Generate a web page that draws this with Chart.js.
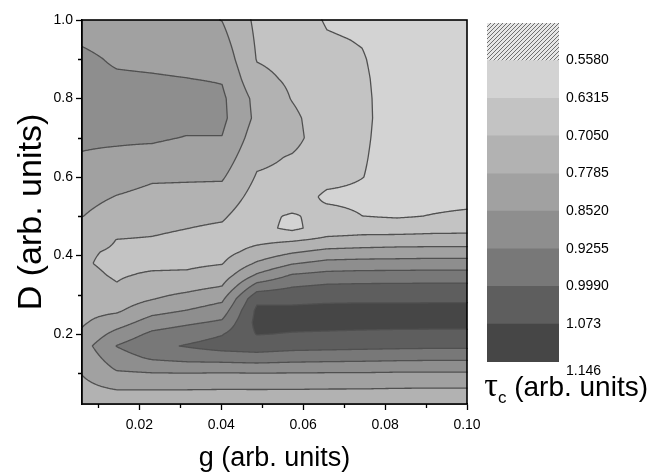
<!DOCTYPE html>
<html>
<head>
<meta charset="utf-8">
<script src="https://cdn.jsdelivr.net/npm/chart.js@4"></script>
<style>
  html, body { margin: 0; padding: 0; background: #fff; }
  #wrap { position: relative; width: 652px; height: 475px; overflow: hidden; }
  #main { position: absolute; left: 0; top: 0; }
  #scale { position: absolute; left: 470px; top: 0; }
  #unit { position: absolute; right: 4px; top: 366px; font-family: "Liberation Sans", Arial, sans-serif; font-size: 28px; color: #000; white-space: nowrap; }
  #unit .tau { font-family: "Liberation Serif", serif; font-size: 34px; }
  #unit sub { font-size: 17px; }
</style>
</head>
<body>
<div id="wrap">
  <canvas id="main" width="652" height="475"></canvas>
  <canvas id="scale" width="182" height="475"></canvas>
  <div id="unit"><span class="tau">τ</span><sub>c</sub> (arb. units)</div>
</div>
<script>
// Contour levels and colour scale
const levels = [0.558, 0.6315, 0.705, 0.7785, 0.852, 0.9255, 0.999, 1.073, 1.146];
const levelLabels = ['0.5580', '0.6315', '0.7050', '0.7785', '0.8520', '0.9255', '0.9990', '1.073', '1.146'];
const bandColors = ['#d3d3d3', '#c3c3c3', '#b2b2b2', '#a1a1a1', '#8e8e8e', '#787878', '#5e5e5e', '#464646'];

// Axis ticks
const gTicks = [0.02, 0.04, 0.06, 0.08, 0.10];
const gMinorTicks = [0.01, 0.03, 0.05, 0.07, 0.09];
const dTicks = [0.2, 0.4, 0.6, 0.8, 1.0];
const dMinorTicks = [0.1, 0.3, 0.5, 0.7, 0.9];

// Grid of tau_c values
const gValues = [0.006, 0.0145, 0.0231, 0.0316, 0.0402, 0.0487, 0.0573, 0.0658, 0.0744, 0.0829, 0.0915, 0.1];
const dValues = [0.02, 0.05, 0.08, 0.11, 0.14, 0.17, 0.20, 0.23, 0.26, 0.29, 0.32, 0.35, 0.38, 0.41,
                 0.44, 0.47, 0.50, 0.55, 0.60, 0.65, 0.70, 0.75, 0.80, 0.85, 0.90, 0.95, 1.00];
// one column per g value, entries follow dValues
const tauColumns = [
  [.740, .755, .770, .786, .803, .820, .789, .770, .758, .748, .735, .722, .712, .713, .735, .757, .780, .802, .825, .848, .861, .871, .880, .870, .865, .845, .820],
  [.740, .767, .809, .857, .892, .928, .877, .817, .768, .739, .710, .698, .690, .698, .704, .724, .744, .776, .808, .840, .861, .876, .878, .860, .844, .830, .815],
  [.740, .767, .809, .869, .937, .983, .941, .885, .827, .775, .745, .714, .690, .681, .700, .717, .733, .759, .788, .830, .861, .882, .878, .857, .840, .825, .810],
  [.740, .767, .809, .872, .954, 1.004, .967, .912, .854, .804, .758, .717, .691, .670, .688, .706, .724, .755, .787, .818, .849, .875, .879, .853, .835, .817, .800],
  [.740, .766, .807, .870, .961, 1.027, .995, .937, .887, .837, .782, .740, .702, .680, .672, .694, .715, .751, .786, .818, .850, .868, .865, .847, .824, .800, .777],
  [.740, .766, .808, .872, .970, 1.034, 1.076, 1.094, 1.088, 1.056, .962, .862, .788, .728, .686, .655, .654, .677, .699, .720, .741, .762, .756, .723, .702, .696, .690],
  [.740, .766, .807, .871, .959, 1.025, 1.069, 1.093, 1.087, 1.057, .998, .932, .847, .769, .696, .615, .622, .680, .690, .700, .725, .720, .702, .694, .686, .678, .670],
  [.740, .765, .805, .870, .954, 1.022, 1.066, 1.093, 1.092, 1.061, 1.014, .950, .875, .797, .720, .667, .660, .615, .660, .668, .668, .665, .660, .655, .648, .638, .625],
  [.740, .765, .804, .870, .950, 1.019, 1.062, 1.094, 1.094, 1.062, 1.017, .955, .880, .804, .728, .675, .632, .612, .633, .638, .642, .645, .644, .641, .636, .628, .615],
  [.740, .763, .802, .867, .946, 1.016, 1.059, 1.094, 1.095, 1.061, 1.018, .956, .881, .808, .734, .671, .625, .610, .603, .600, .600, .600, .600, .600, .600, .600, .600],
  [.740, .763, .800, .867, .943, 1.014, 1.058, 1.094, 1.095, 1.062, 1.019, .958, .884, .810, .736, .679, .634, .612, .601, .600, .598, .597, .596, .596, .595, .595, .595],
  [.740, .763, .800, .867, .943, 1.014, 1.058, 1.094, 1.095, 1.062, 1.019, .958, .884, .810, .736, .682, .642, .613, .600, .598, .597, .596, .595, .595, .595, .595, .595]
];

const FONT = '"Liberation Sans", Arial, sans-serif';
const LINE_COLOR = '#505050';

function findCell(arr, v) {
    let i = 0;
    while (i < arr.length - 2 && v > arr[i + 1]) i++;
    let t = (v - arr[i]) / (arr[i + 1] - arr[i]);
    return [i, Math.max(0, Math.min(1, t))];
}

// bilinear lookup in the value grid
function tauAt(g, d) {
    const [i, tx] = findCell(gValues, g);
    const [j, ty] = findCell(dValues, d);
    const a = tauColumns[i][j], b = tauColumns[i + 1][j];
    const c = tauColumns[i][j + 1], e = tauColumns[i + 1][j + 1];
    return (a * (1 - tx) + b * tx) * (1 - ty) + (c * (1 - tx) + e * tx) * ty;
}

function bandOf(v) {
    let b = 0;
    while (b < levels.length && v >= levels[b]) b++;
    return b;
}

function hexToRgb(h) {
    const n = parseInt(h.slice(1), 16);
    return [(n >> 16) & 255, (n >> 8) & 255, n & 255];
}

const bandRgb = [hexToRgb('#e4e4e4')].concat(bandColors.map(hexToRgb), [hexToRgb('#3a3a3a')]);

const contourPlugin = {
    id: 'contour',
    beforeDatasetsDraw(chart) {
        const { ctx, chartArea: a, scales: { x, y } } = chart;
        const x0 = Math.round(a.left), y0 = Math.round(a.top);
        const w = Math.round(a.right) - x0, h = Math.round(a.bottom) - y0;

        // filled bands
        const gx = [], dy = [];
        for (let i = 0; i < w; i++) gx.push(x.getValueForPixel(x0 + i + 0.5));
        for (let j = 0; j < h; j++) dy.push(y.getValueForPixel(y0 + j + 0.5));
        const img = ctx.createImageData(w, h);
        for (let j = 0; j < h; j++) {
            for (let i = 0; i < w; i++) {
                const c = bandRgb[bandOf(tauAt(gx[i], dy[j]))];
                const k = (j * w + i) * 4;
                img.data[k] = c[0]; img.data[k + 1] = c[1]; img.data[k + 2] = c[2]; img.data[k + 3] = 255;
            }
        }
        ctx.putImageData(img, x0, y0);

        // contour lines (marching squares on the pixel lattice)
        const W = w + 1, H = h + 1;
        const f = new Float32Array(W * H);
        const gc = [], dc = [];
        for (let i = 0; i < W; i++) gc.push(x.getValueForPixel(x0 + i));
        for (let j = 0; j < H; j++) dc.push(y.getValueForPixel(y0 + j));
        for (let j = 0; j < H; j++) for (let i = 0; i < W; i++) f[j * W + i] = tauAt(gc[i], dc[j]);

        ctx.save();
        ctx.beginPath();
        for (const L of levels) {
            for (let j = 0; j < H - 1; j++) {
                for (let i = 0; i < W - 1; i++) {
                    const p = f[j * W + i], q = f[j * W + i + 1];
                    const r = f[(j + 1) * W + i + 1], s = f[(j + 1) * W + i];
                    const pts = [];
                    if ((p < L) !== (q < L)) pts.push([i + (L - p) / (q - p), j]);
                    if ((q < L) !== (r < L)) pts.push([i + 1, j + (L - q) / (r - q)]);
                    if ((s < L) !== (r < L)) pts.push([i + (L - s) / (r - s), j + 1]);
                    if ((p < L) !== (s < L)) pts.push([i, j + (L - p) / (s - p)]);
                    if (pts.length >= 2) {
                        ctx.moveTo(x0 + pts[0][0], y0 + pts[0][1]);
                        ctx.lineTo(x0 + pts[1][0], y0 + pts[1][1]);
                    }
                    if (pts.length === 4) {
                        ctx.moveTo(x0 + pts[2][0], y0 + pts[2][1]);
                        ctx.lineTo(x0 + pts[3][0], y0 + pts[3][1]);
                    }
                }
            }
        }
        ctx.strokeStyle = LINE_COLOR;
        ctx.lineWidth = 1.3;
        ctx.lineCap = 'round';
        ctx.lineJoin = 'round';
        ctx.stroke();
        ctx.restore();
    }
};

const framePlugin = {
    id: 'frame',
    afterDraw(chart) {
        const { ctx, chartArea: a, scales: { x, y } } = chart;
        ctx.save();
        ctx.strokeStyle = '#000';
        ctx.lineWidth = 1.3;
        ctx.beginPath();
        gMinorTicks.forEach(v => {
            const px = Math.round(x.getPixelForValue(v)) + 0.5;
            ctx.moveTo(px, a.bottom); ctx.lineTo(px, a.bottom + 4);
        });
        dMinorTicks.forEach(v => {
            const py = Math.round(y.getPixelForValue(v)) + 0.5;
            ctx.moveTo(a.left, py); ctx.lineTo(a.left - 4, py);
        });
        ctx.stroke();
        ctx.lineWidth = 1.6;
        ctx.strokeRect(a.left, a.top, a.right - a.left, a.bottom - a.top);
        ctx.restore();
    }
};

new Chart(document.getElementById('main'), {
    type: 'scatter',
    data: { datasets: [] },
    options: {
        responsive: false,
        animation: false,
        devicePixelRatio: 1,
        events: [],
        layout: { padding: { left: 0, top: 20, right: 185, bottom: 0 } },
        plugins: { legend: { display: false }, tooltip: { enabled: false } },
        scales: {
            x: {
                type: 'linear',
                min: 0.006,
                max: 0.1,
                afterBuildTicks: s => { s.ticks = gTicks.map(v => ({ value: v })); },
                afterFit: s => { s.height = 71; },
                ticks: {
                    callback: v => v.toFixed(2),
                    font: { family: FONT, size: 14 },
                    color: '#000',
                    padding: 7,
                    maxRotation: 0,
                    autoSkip: false
                },
                grid: { drawOnChartArea: false, tickLength: 6, tickColor: '#000', tickWidth: 1.3 },
                border: { color: '#000', width: 1.5 },
                title: {
                    display: true,
                    text: 'g (arb. units)',
                    font: { family: FONT, size: 27 },
                    color: '#000',
                    padding: { top: 0, bottom: 0 }
                }
            },
            y: {
                type: 'linear',
                min: 0.022,
                max: 1.0,
                afterBuildTicks: s => { s.ticks = dTicks.map(v => ({ value: v })); },
                afterFit: s => { s.width = 82; },
                ticks: {
                    callback: v => v.toFixed(1),
                    font: { family: FONT, size: 14 },
                    color: '#000',
                    padding: 3,
                    autoSkip: false
                },
                grid: { drawOnChartArea: false, tickLength: 6, tickColor: '#000', tickWidth: 1.3 },
                border: { color: '#000', width: 1.5 },
                title: {
                    display: true,
                    text: 'D (arb. units)',
                    font: { family: FONT, size: 34 },
                    color: '#000',
                    padding: { top: 11, bottom: 0 }
                }
            }
        }
    },
    plugins: [contourPlugin, framePlugin]
});

// Colour scale bar
const scaleCtx = document.getElementById('scale').getContext('2d');

function makeHatch() {
    const c = document.createElement('canvas');
    c.width = 4; c.height = 4;
    const g = c.getContext('2d');
    g.fillStyle = '#e6e6e6';
    g.fillRect(0, 0, 4, 4);
    g.strokeStyle = '#6e6e6e';
    g.lineWidth = 1;
    g.beginPath();
    g.moveTo(0, 4); g.lineTo(4, 0);
    g.moveTo(-1, 1); g.lineTo(1, -1);
    g.moveTo(3, 5); g.lineTo(5, 3);
    g.stroke();
    return scaleCtx.createPattern(c, 'repeat');
}

const scaleTickPos = [8, 7, 6, 5, 4, 3, 2, 1, -0.25];
const scaleDatasets = [];
for (let b = bandColors.length - 1; b >= 0; b--) {
    scaleDatasets.push({ data: [1], backgroundColor: bandColors[b], borderWidth: 0 });
}
scaleDatasets.push({ data: [1], backgroundColor: makeHatch(), borderWidth: 0 });

new Chart(scaleCtx, {
    type: 'bar',
    data: { labels: [''], datasets: scaleDatasets },
    options: {
        responsive: false,
        animation: false,
        devicePixelRatio: 1,
        events: [],
        datasets: { bar: { barPercentage: 1, categoryPercentage: 1 } },
        layout: { padding: { left: 17, top: 23, right: 0, bottom: 102 } },
        plugins: { legend: { display: false }, tooltip: { enabled: false } },
        scales: {
            x: { display: false, stacked: true },
            y: {
                stacked: true,
                position: 'right',
                min: -0.3,
                max: 9,
                afterBuildTicks: s => { s.ticks = scaleTickPos.map(v => ({ value: v })); },
                afterFit: s => { s.width = 93; },
                ticks: {
                    callback: v => levelLabels[scaleTickPos.indexOf(v)],
                    font: { family: FONT, size: 14 },
                    color: '#000',
                    padding: 7,
                    autoSkip: false
                },
                grid: { display: false, drawTicks: false },
                border: { display: false }
            }
        }
    }
});
</script>
</body>
</html>
